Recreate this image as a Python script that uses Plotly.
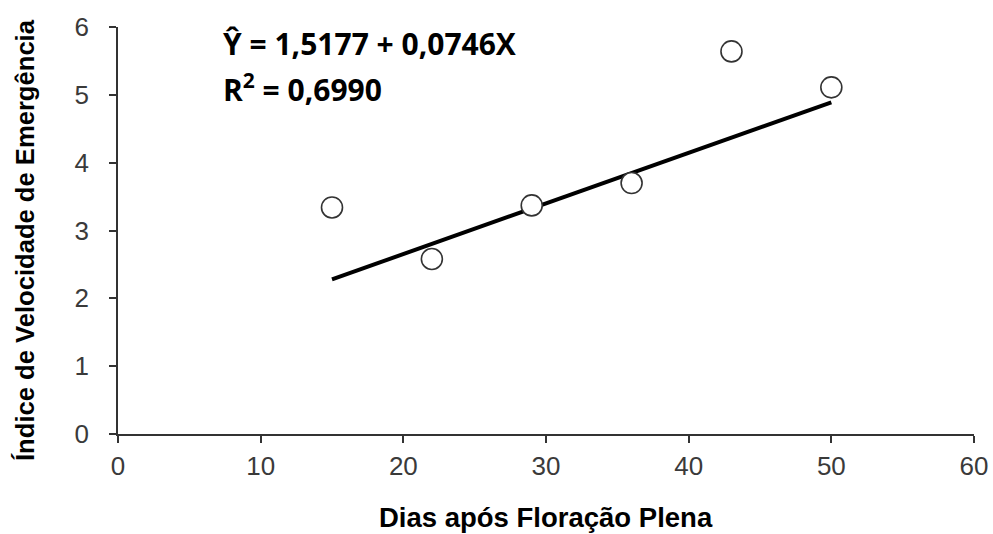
import plotly.graph_objects as go

dias = [15, 22, 29, 36, 43, 50]
ive = [3.34, 2.58, 3.37, 3.70, 5.64, 5.11]

fit_x = [15, 50]
fit_y = [2.28, 4.89]

x_ticks = [0, 10, 20, 30, 40, 50, 60]
y_ticks = [0, 1, 2, 3, 4, 5, 6]

equation = "Ŷ = 1,5177 + 0,0746X"
r2_text = "R<sup>2</sup> = 0,6990"
x_title = "Dias após Floração Plena"
y_title = "Índice de Velocidade de Emergência"

fig = go.Figure()
fig.add_trace(go.Scatter(x=fit_x, y=fit_y, mode="lines",
                         line=dict(color="black", width=4), showlegend=False,
                         hoverinfo="skip"))
fig.add_trace(go.Scatter(x=dias, y=ive, mode="markers",
                         marker=dict(size=21, color="white",
                                     line=dict(color="#333333", width=1.6)),
                         showlegend=False))

axis_common = dict(showgrid=False, zeroline=False, showline=True, automargin=False,
                   linecolor="#333333", linewidth=1.5, ticks="outside",
                   ticklen=7, tickcolor="#333333", tickwidth=1.5,
                   tickfont=dict(family="Liberation Sans, Arial", size=26, color="#3a3a3a"))

fig.update_xaxes(range=[0, 60], tickvals=x_ticks, ticklabelstandoff=1, **axis_common)
fig.update_yaxes(range=[0, 6], tickvals=y_ticks, ticklabelstandoff=15, **axis_common)

fig.add_annotation(xref="paper", yref="paper", x=0.5, y=(434 - 517) / 407, yanchor="middle",
                   text=x_title, showarrow=False,
                   font=dict(family="Liberation Sans, Arial", size=27.5, color="black", weight="bold"))
fig.add_annotation(xref="paper", yref="paper", x=(25 - 118) / 856, xanchor="center",
                   y=(434 - 240) / 407, yanchor="middle", textangle=-90,
                   text=y_title, showarrow=False,
                   font=dict(family="Liberation Sans, Arial", size=25.6, color="black", weight="bold"))
fig.add_annotation(xref="x", yref="y", x=7.2, y=(434 - 44) / 67.83, xanchor="left",
                   yanchor="middle", text=equation, showarrow=False,
                   font=dict(family="Open Sans, Liberation Sans", size=30, color="black", weight="bold"))
fig.add_annotation(xref="x", yref="y", x=7.2, y=(434 - 88) / 67.83, xanchor="left",
                   yanchor="middle", text=r2_text, showarrow=False,
                   font=dict(family="Open Sans, Liberation Sans", size=30, color="black", weight="bold"))

fig.update_layout(width=993, height=534, plot_bgcolor="white", paper_bgcolor="white",
                  margin=dict(l=118, r=19, t=27, b=100))

fig.write_html("out.html", config={"displayModeBar": False},
               post_script="document.body.style.margin='0px';")
